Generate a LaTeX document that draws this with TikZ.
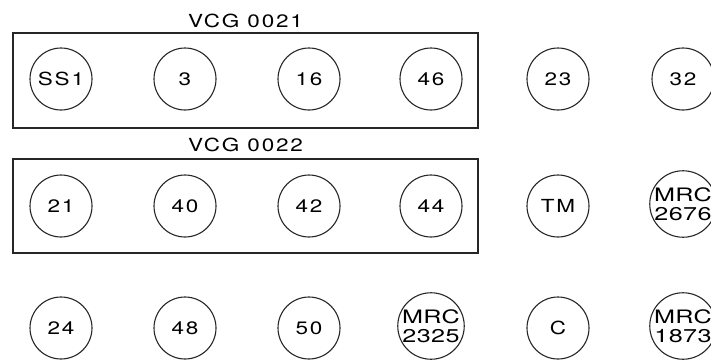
\documentclass[tikz,border=0pt]{standalone}
\usepackage{fontspec}
\newfontfamily\plotfont[FakeStretch=1.25,LetterSpace=10]{TeX Gyre Heros}
\newfontfamily\plotwidefont[FakeStretch=1.36,LetterSpace=2]{TeX Gyre Heros}

\begin{document}
\begin{tikzpicture}[
    x=1pt,y=1pt,
    font=\plotfont\fontsize{18}{20}\selectfont,
    clone/.style={circle,draw=black!85,line width=1.1pt,minimum size=62pt,inner sep=0pt},
    twoline/.style={align=center,font=\plotwidefont\fontsize{18.5}{19}\selectfont},
    group/.style={draw=black!85,line width=1.2pt}
]
\useasboundingbox (0,0) rectangle (711,360);

% First row: contig VCG 0021 and two single clones.
\draw[group] (13,232) rectangle (478,327);
\node (vcg21) at (245.5,339) {VCG 0021};
\node[clone] (ss1) at (61,281) {SS1};
\node[clone] (n3) at (185,281) {3};
\node[clone] (n16) at (309,281) {16};
\node[clone] (n46) at (431,281) {46};
\node[clone] (n23) at (558,281) {23};
\node[clone] (n32) at (683,281) {32};

% Second row: contig VCG 0022.
\draw[group] (13,107) rectangle (478,201);
\node (vcg22) at (245.5,215) {VCG 0022};
\node[clone] (n21) at (61,154) {21};
\node[clone] (n40) at (185,154) {40};
\node[clone] (n42) at (309,154) {42};
\node[clone] (n44) at (431,154) {44};
\node[clone] (tm) at (558,154) {TM};
\node[clone,twoline] (mrc2676) at (683,156) {MRC\\2676};

% Third row: ungrouped clones.
\node[clone] (n24) at (61,32) {24};
\node[clone] (n48) at (185,32) {48};
\node[clone] (n50) at (309,32) {50};
\node[clone,twoline] (mrc2325) at (431,34) {MRC\\2325};
\node[clone] (c) at (558,32) {C};
\node[clone,twoline] (mrc1873) at (683,34) {MRC\\1873};
\end{tikzpicture}
\end{document}
